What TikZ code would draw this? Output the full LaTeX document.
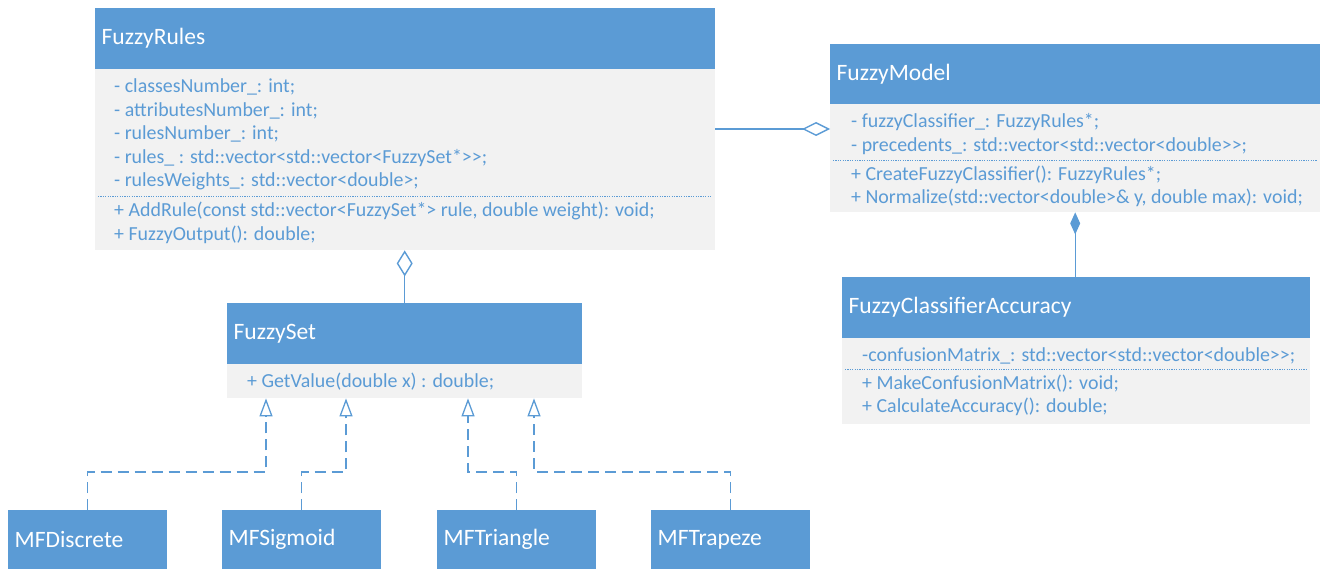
\documentclass[tikz,border=0pt]{standalone}
\usepackage{fontspec}
\setmainfont{Carlito}[Ligatures=TeXOff]
\usetikzlibrary{arrows.meta}
\definecolor{umlblue}{RGB}{91,155,213}
\definecolor{umlgray}{RGB}{242,242,242}
\tikzset{
  hdr/.style={fill=umlblue, draw=none, text=white, anchor=north west,
    inner xsep=6.5pt, inner ysep=0pt, align=left,
    font=\fontsize{23.5}{27}\selectfont},
  bodybox/.style={fill=umlgray, draw=none, anchor=north west, inner sep=0pt},
  member/.style={text=umlblue, anchor=base west, inner sep=0pt,
    font=\fontsize{19.9}{24}\selectfont},
  sepline/.style={draw=umlblue, line width=0.8pt, dash pattern=on 1.2pt off 1.2pt},
  link/.style={draw=umlblue, line width=1.4pt},
  inh/.style={link, line width=1.3pt, dash pattern=on 11pt off 6pt,
    -{Triangle[open, length=18pt, width=13pt]}},
}
\begin{document}
\begin{tikzpicture}[x=1pt, y=1pt]
\useasboundingbox (0,0) rectangle (1326,-569);

% ---------- FuzzyRules ----------
\node[hdr, text width=607pt, minimum height=61pt] (rulesH) at (95,-8) {FuzzyRules};
\node[bodybox, minimum width=620pt, minimum height=181pt] (rulesB) at (95,-69) {};
\node[member] (rulesA1) at (114,-93)   {- classesNumber\_: int;};
\node[member] (rulesA2) at (114,-116.5) {- attributesNumber\_: int;};
\node[member] (rulesA3) at (114,-140)  {- rulesNumber\_: int;};
\node[member] (rulesA4) at (114,-163.5) {- rules\_ : std::vector<std::vector<FuzzySet*>>;};
\node[member] (rulesA5) at (114,-187)  {- rulesWeights\_: std::vector<double>;};
\draw[sepline] (98,-196) -- (712,-196);
\node[member] (rulesM1) at (114,-217)  {+ AddRule(const std::vector<FuzzySet*> rule, double weight): void;};
\node[member] (rulesM2) at (114,-240.5) {+ FuzzyOutput(): double;};

% ---------- FuzzyModel ----------
\node[hdr, text width=477pt, minimum height=60pt] (modelH) at (830,-44) {FuzzyModel};
\node[bodybox, minimum width=490pt, minimum height=108pt] (modelB) at (830,-104) {};
\node[member] (modelA1) at (851,-128) {- fuzzyClassifier\_: FuzzyRules*;};
\node[member] (modelA2) at (851,-152) {- precedents\_: std::vector<std::vector<double>>;};
\draw[sepline] (833,-160.5) -- (1317,-160.5);
\node[member] (modelM1) at (851,-181) {+ CreateFuzzyClassifier(): FuzzyRules*;};
\node[member] (modelM2) at (851,-204) {+ Normalize(std::vector<double>\& y, double max): void;};

% ---------- FuzzyClassifierAccuracy ----------
\node[hdr, text width=455pt, minimum height=61pt] (accH) at (842,-277) {FuzzyClassifierAccuracy};
\node[bodybox, minimum width=468pt, minimum height=86pt] (accB) at (842,-338) {};
\node[member] (accA1) at (862,-362) {-confusionMatrix\_: std::vector<std::vector<double>>;};
\draw[sepline] (845,-369.5) -- (1307,-369.5);
\node[member] (accM1) at (862,-390) {+ MakeConfusionMatrix(): void;};
\node[member] (accM2) at (862,-413) {+ CalculateAccuracy(): double;};

% ---------- FuzzySet ----------
\node[hdr, text width=342pt, minimum height=61pt] (setH) at (227,-303) {FuzzySet};
\node[bodybox, minimum width=355pt, minimum height=34pt] (setB) at (227,-364) {};
\node[member] (setM1) at (247,-388) {+ GetValue(double x) : double;};

% ---------- membership functions ----------
\node[hdr, text width=146pt, minimum height=59pt] (discH) at (8,-510)   {MFDiscrete};
\node[hdr, text width=146pt, minimum height=59pt] (sigH)  at (222,-510) {MFSigmoid};
\node[hdr, text width=146pt, minimum height=59pt] (triH)  at (437,-510) {MFTriangle};
\node[hdr, text width=146pt, minimum height=59pt] (trapH) at (651,-510) {MFTrapeze};

% ---------- relations ----------
\draw[link, -{Diamond[open, length=28pt, width=14pt]}]
  ([yshift=-60pt]rulesB.north east) -- ([yshift=-60pt]rulesB.north east -| modelB.west);
\draw[link, {Diamond[open, length=26pt, width=16pt]}-]
  (setH.north |- rulesB.south) -- (setH.north);
\draw[link, {Diamond[length=22pt, width=10pt]}-]
  (modelB.south) -- (modelB.south |- accH.north);

\draw[inh] (discH.north) -- ++(0,38) -| ([xshift=39pt]setB.south west);
\draw[inh] (sigH.north)  -- ++(0,38) -| ([xshift=119pt]setB.south west);
\draw[inh] (triH.north)  -- ++(0,38) -| ([xshift=241pt]setB.south west);
\draw[inh] (trapH.north) -- ++(0,38) -| ([xshift=307pt]setB.south west);
\end{tikzpicture}
\end{document}
